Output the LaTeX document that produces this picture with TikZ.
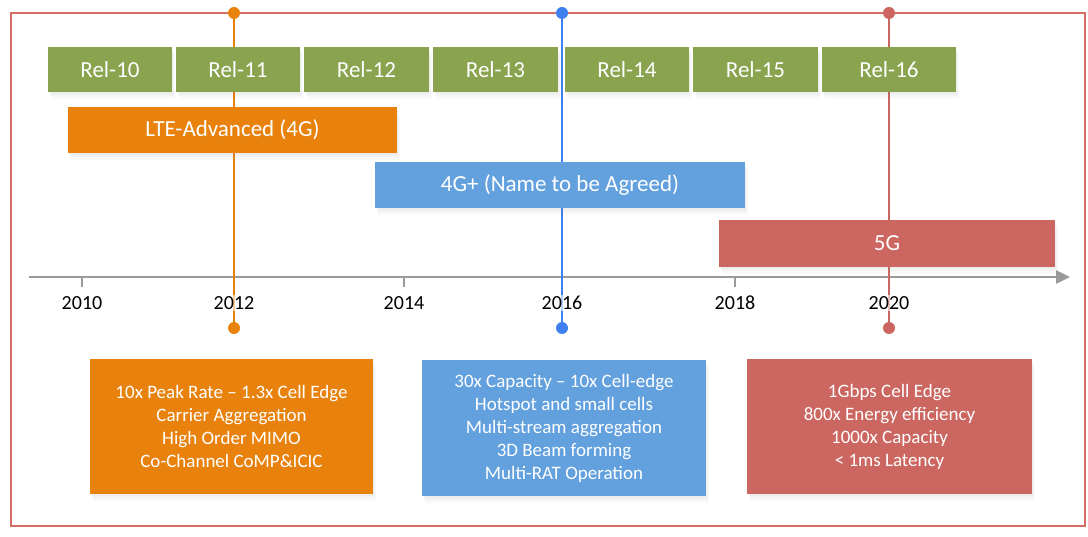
\documentclass[tikz,border=0pt]{standalone}
\usepackage{fontspec}
\setmainfont{Carlito}
\usetikzlibrary{arrows.meta,shadows}
\definecolor{relgreen}{HTML}{8AA34E}
\definecolor{ltorange}{HTML}{E8820C}
\definecolor{boxblue}{HTML}{62A0DE}
\definecolor{lineblue}{HTML}{3F80F0}
\definecolor{boxred}{HTML}{CC6660}
\definecolor{framered}{HTML}{D66E68}
\definecolor{axisgray}{HTML}{9A9A9A}
\tikzset{
  shadowed/.style={
    drop shadow={opacity=0.05, shadow xshift=1pt, shadow yshift=-2pt},
    drop shadow={opacity=0.05, shadow xshift=2pt, shadow yshift=-4pt},
    drop shadow={opacity=0.05, shadow xshift=3pt, shadow yshift=-7pt}},
  relbox/.style={fill=relgreen, text=white, inner sep=0pt, minimum height=45pt, shadowed,
    font=\fontsize{23}{28}\selectfont},
  genbox/.style={text=white, inner sep=0pt, shadowed, font=\fontsize{23}{28}\selectfont},
  infobox/.style={text=white, inner sep=0pt, minimum height=135pt, align=center, shadowed,
    font=\fontsize{19}{23}\selectfont},
  dot/.style={circle, fill=#1, inner sep=0pt, minimum size=12pt},
  vline/.style={line width=2.5pt, draw=#1},
  yearlbl/.style={font=\fontsize{20}{24}\selectfont, text=black, inner sep=1pt,
    fill=white, fill opacity=0.6, text opacity=1},
  tick/.style={draw=axisgray, line width=1.5pt}
}
\begin{document}
\begin{tikzpicture}[x=1pt,y=-1pt]
\useasboundingbox (0,0) rectangle (1088,537);
% frame
\draw[draw=framered, line width=2.5pt] (11,13) rectangle (1085,526);
% axis
\coordinate (axs) at (29,277);
\coordinate (axe) at (1070,277);
\foreach \x in {82,234,404,562,735,889}{
  \draw[tick] (\x,277) -- (\x,287);
}
\draw[draw=axisgray, line width=2.5pt, -{Triangle[length=14pt,width=13pt]}] (axs) -- (axe);
% vertical lines with dots
\node[dot=ltorange] (ot) at (234,13) {};
\node[dot=ltorange] (ob) at (234,328) {};
\node[dot=lineblue] (bt) at (562,13) {};
\node[dot=lineblue] (bb) at (562,328) {};
\node[dot=boxred] (rt) at (889,13) {};
\node[dot=boxred] (rb) at (889,328) {};
\draw[vline=ltorange] (ot) -- (ob);
\draw[vline=lineblue] (bt) -- (bb);
\draw[vline=boxred] (rt) -- (rb);
% year labels
\node[yearlbl] (y10) at (82,303) {2010};
\node[yearlbl] (y12) at (234,303) {2012};
\node[yearlbl] (y14) at (404,303) {2014};
\node[yearlbl] (y16) at (562,303) {2016};
\node[yearlbl] (y18) at (735,303) {2018};
\node[yearlbl] (y20) at (889,303) {2020};
% release boxes
\node[relbox, minimum width=124pt] (r10) at (110,69.5) {Rel-10};
\node[relbox, minimum width=124pt] (r11) at (238,69.5) {Rel-11};
\node[relbox, minimum width=125pt] (r12) at (366.5,69.5) {Rel-12};
\node[relbox, minimum width=125pt] (r13) at (495.5,69.5) {Rel-13};
\node[relbox, minimum width=124pt] (r14) at (627,69.5) {Rel-14};
\node[relbox, minimum width=125pt] (r15) at (755.5,69.5) {Rel-15};
\node[relbox, minimum width=134pt] (r16) at (889,69.5) {Rel-16};
% generation boxes
\node[genbox, fill=ltorange, minimum width=329pt, minimum height=46pt] (lte) at (232.5,130) {LTE-Advanced (4G)};
\node[genbox, fill=boxblue, minimum width=370pt, minimum height=46pt] (g4p) at (560,185) {4G+ (Name to be Agreed)};
\node[genbox, fill=boxred, minimum width=336pt, minimum height=47pt] (g5) at (887,243.5) {5G};
% info boxes
\node[infobox, fill=ltorange, minimum width=283pt] (i1) at (231.5,426.5)
  {10x Peak Rate -- 1.3x Cell Edge\\Carrier Aggregation\\High Order MIMO\\Co-Channel CoMP\&ICIC};
\node[infobox, fill=boxblue, minimum width=284pt] (i2) at (564,428)
  {30x Capacity -- 10x Cell-edge\\Hotspot and small cells\\Multi-stream aggregation\\3D Beam forming\\Multi-RAT Operation};
\node[infobox, fill=boxred, minimum width=285pt] (i3) at (889.5,426.5)
  {1Gbps Cell Edge\\800x Energy efficiency\\1000x Capacity\\< 1ms Latency};
\end{tikzpicture}
\end{document}
